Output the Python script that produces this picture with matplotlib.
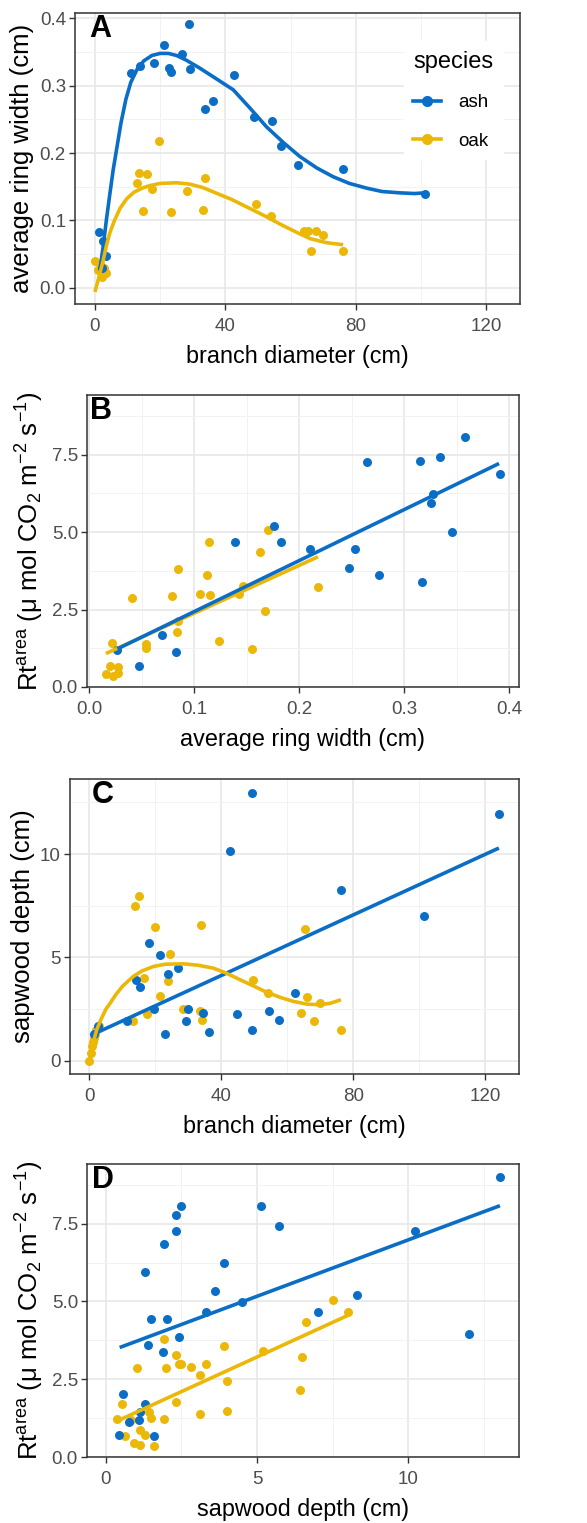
import matplotlib
matplotlib.use("Agg")
import matplotlib.pyplot as plt
from matplotlib.lines import Line2D
from matplotlib.ticker import MultipleLocator

plt.rcParams['font.family'] = ['Liberation Sans', 'DejaVu Sans']
plt.rcParams['mathtext.default'] = 'regular'

ASH = '#0a6dc6'
OAK = '#ebb807'

# ---- panel A: ring width vs branch diameter ----
a_ash_x = [11.0, 13.8, 18.1, 21.1, 22.7, 23.4, 26.6, 28.8, 29.3, 33.9, 36.1, 42.5,
           48.8, 54.3, 57.1, 62.2, 76.1, 101.1, 1.4, 2.5, 3.4, 2.2]
a_ash_y = [0.319, 0.330, 0.334, 0.360, 0.327, 0.321, 0.347, 0.392, 0.325, 0.266,
           0.278, 0.316, 0.254, 0.248, 0.211, 0.183, 0.176, 0.140, 0.083, 0.069,
           0.047, 0.030]
a_oak_x = [13.0, 13.6, 16.1, 17.5, 19.7, 28.2, 33.7, 14.6, 23.4, 33.2, 49.4, 53.9,
           64.1, 65.3, 67.9, 69.8, 66.1, 76.1, 0.0, 1.0, 2.1, 3.4, 2.8, 1.5]
a_oak_y = [0.155, 0.171, 0.169, 0.147, 0.218, 0.144, 0.163, 0.114, 0.113, 0.116,
           0.124, 0.107, 0.085, 0.085, 0.085, 0.079, 0.054, 0.055, 0.040, 0.027,
           0.016, 0.022, 0.030, 0.035]
a_ash_fit_x = [1.5, 2.5, 3.5, 4.6, 5.6, 6.8, 8.0, 9.5, 11.0, 13.0, 15.0, 17.5, 20.0,
               22.5, 25.0, 28.0, 32.2, 37.0, 42.4, 47.5, 52.6, 57.7, 62.8, 68.0,
               73.0, 78.0, 83.3, 88.0, 93.5, 98.0, 101.1]
a_ash_fit_y = [0.026, 0.060, 0.100, 0.140, 0.175, 0.210, 0.245, 0.280, 0.305, 0.325,
               0.337, 0.345, 0.348, 0.348, 0.345, 0.338, 0.326, 0.311, 0.294, 0.267,
               0.239, 0.216, 0.195, 0.178, 0.165, 0.155, 0.148, 0.143, 0.141, 0.140,
               0.141]
a_oak_fit_x = [0.0, 0.8, 1.5, 2.5, 3.5, 4.6, 6.0, 7.7, 9.7, 12.0, 14.5, 17.0, 20.0,
               25.0, 29.0, 33.0, 37.0, 42.0, 47.0, 52.0, 57.0, 62.0, 66.0, 71.0, 76.1]
a_oak_fit_y = [-0.006, 0.008, 0.021, 0.040, 0.062, 0.082, 0.100, 0.118, 0.132, 0.142,
               0.148, 0.152, 0.155, 0.156, 0.154, 0.149, 0.141, 0.131, 0.119, 0.107,
               0.094, 0.082, 0.073, 0.067, 0.064]

# ---- panel B: Rt area vs ring width ----
b_ash_x = [0.1765, 0.139, 0.1825, 0.210, 0.2537, 0.2476, 0.276, 0.265, 0.315, 0.334,
           0.358, 0.391, 0.328, 0.326, 0.346, 0.317, 0.069, 0.0826, 0.0476, 0.027]
b_ash_y = [5.20, 4.67, 4.67, 4.44, 4.44, 3.85, 3.61, 7.26, 7.29, 7.42, 8.07, 6.86,
           6.24, 5.95, 4.99, 3.38, 1.68, 1.14, 0.69, 1.20]
b_oak_x = [0.114, 0.1705, 0.1625, 0.0848, 0.1127, 0.041, 0.0787, 0.1057, 0.115, 0.143,
           0.147, 0.218, 0.085, 0.168, 0.0836, 0.124, 0.155, 0.0543, 0.0543, 0.0216,
           0.020, 0.028, 0.016, 0.0226, 0.028]
b_oak_y = [4.67, 5.05, 4.36, 3.80, 3.60, 2.87, 2.92, 2.99, 2.97, 2.99, 3.27, 3.22,
           2.14, 2.45, 1.77, 1.47, 1.22, 1.39, 1.26, 1.42, 0.69, 0.66, 0.42, 0.34, 0.45]
b_ash_fit_x = [0.027, 0.3905]
b_ash_fit_y = [1.23, 7.21]
b_oak_fit_x = [0.016, 0.218]
b_oak_fit_y = [1.08, 4.20]

# ---- panel C: sapwood depth vs branch diameter ----
c_ash_x = [49.4, 42.7, 124.2, 76.2, 101.5, 18.2, 21.4, 23.8, 26.8, 14.1, 15.2, 19.6,
           29.8, 34.5, 44.9, 54.4, 62.5, 57.5, 29.2, 11.3, 49.3, 36.3, 23.0, 2.5, 1.5]
c_ash_y = [12.95, 10.17, 11.95, 8.27, 6.98, 5.69, 5.13, 4.21, 4.48, 3.92, 3.55, 2.50,
           2.50, 2.31, 2.27, 2.39, 3.27, 1.98, 1.90, 1.90, 1.50, 1.40, 1.29, 1.70, 1.30]
c_oak_x = [14.9, 13.8, 19.8, 33.9, 65.3, 24.4, 16.4, 23.8, 49.7, 54.2, 66.1, 21.4,
           70.0, 28.3, 33.5, 64.3, 34.2, 17.6, 13.2, 68.2, 76.3,
           0.0, 0.5, 0.8, 1.0, 1.3, 1.6, 2.0, 2.5, 3.0]
c_oak_y = [7.95, 7.47, 6.48, 6.58, 6.39, 5.18, 4.00, 3.87, 3.89, 3.27, 3.08, 3.11,
           2.79, 2.50, 2.39, 2.31, 1.98, 2.27, 1.90, 1.90, 1.50,
           0.0, 0.4, 0.7, 0.9, 1.1, 1.3, 1.5, 1.6, 1.7]
c_ash_fit_x = [0.3, 124.2]
c_ash_fit_y = [1.22, 10.29]
c_oak_fit_x = [0.0, 0.5, 1.1, 2.2, 3.5, 5.0, 6.3, 8.0, 10.0, 13.3, 16.0, 19.4, 23.0,
               28.5, 33.0, 37.6, 41.5, 45.7, 50.0, 53.8, 58.0, 61.9, 66.0, 70.0, 73.0,
               76.3]
c_oak_fit_y = [0.05, 0.45, 0.85, 1.50, 2.00, 2.50, 2.79, 3.20, 3.60, 4.08, 4.35, 4.56,
               4.67, 4.69, 4.62, 4.48, 4.24, 3.92, 3.60, 3.31, 3.06, 2.87, 2.74, 2.71,
               2.78, 2.95]

# ---- panel D: Rt area vs sapwood depth ----
d_ash_x = [13.03, 2.50, 5.12, 2.32, 2.32, 5.72, 10.21, 1.91, 1.30, 3.90, 3.62, 4.51,
           3.32, 7.02, 8.31, 1.51, 2.02, 12.02, 2.41, 1.41, 1.90, 0.57, 1.30, 1.12,
           0.77, 1.10, 0.43, 1.60]
d_ash_y = [8.99, 8.08, 8.08, 7.77, 7.27, 7.43, 7.28, 6.84, 5.96, 6.24, 5.34, 4.97,
           4.67, 4.67, 5.20, 4.43, 4.43, 3.95, 3.87, 3.60, 3.36, 2.02, 1.70, 1.45,
           1.13, 1.18, 0.70, 0.68]
d_oak_x = [7.50, 8.02, 6.61, 1.91, 3.90, 5.20, 6.50, 2.31, 2.50, 2.81, 3.31, 2.42,
           2.00, 1.03, 3.11, 4.00, 6.41, 2.32, 0.53, 1.44, 3.11, 4.00, 0.37, 1.51,
           1.91, 0.85, 1.12, 1.31, 0.65, 0.95, 1.12, 1.60]
d_oak_y = [5.04, 4.67, 4.35, 3.79, 3.58, 3.42, 3.22, 3.28, 2.99, 2.90, 2.99, 2.99,
           2.87, 2.87, 2.63, 2.45, 2.17, 1.77, 1.72, 1.45, 1.38, 1.47, 1.21, 1.24,
           1.21, 1.18, 0.86, 0.70, 0.67, 0.45, 0.40, 0.35]
d_ash_fit_x = [0.46, 13.03]
d_ash_fit_y = [3.52, 8.08]
d_oak_fit_x = [0.43, 8.02]
d_oak_fit_y = [1.18, 4.56]

rt_label = 'Rt$^{area}$ (μ mol CO$_2$ m$^{-2}$ s$^{-1}$)'

W, H = 587, 1523
fig = plt.figure(figsize=(W / 100, H / 100), dpi=100)


def rect(l, r, t, b):
    return [l / W, 1 - b / H, (r - l) / W, (b - t) / H]


def style(ax, xmaj, ymaj):
    ax.xaxis.set_major_locator(MultipleLocator(xmaj))
    ax.xaxis.set_minor_locator(MultipleLocator(xmaj / 2))
    ax.yaxis.set_major_locator(MultipleLocator(ymaj))
    ax.yaxis.set_minor_locator(MultipleLocator(ymaj / 2))
    ax.grid(which='major', color='#e8e8e8', lw=1.2, zorder=0)
    ax.grid(which='minor', color='#f2f2f2', lw=0.7, zorder=0)
    ax.set_axisbelow(True)
    for s in ax.spines.values():
        s.set_color('#333333')
        s.set_linewidth(1.1)
    ax.tick_params(which='major', length=4, width=1, color='#333333',
                   labelsize=13.5, labelcolor='#4d4d4d')
    ax.tick_params(axis='x', which='major', pad=6)
    ax.tick_params(axis='y', which='major', pad=2.5)
    ax.tick_params(which='minor', length=0)


def panel(ax, ash_x, ash_y, oak_x, oak_y, ash_fx, ash_fy, oak_fx, oak_fy, letter,
          lx, oak_first=False):
    ax.scatter(oak_x, oak_y, s=42, color=OAK, zorder=3, linewidths=0)
    ax.scatter(ash_x, ash_y, s=42, color=ASH, zorder=3, linewidths=0)
    order = [(oak_fx, oak_fy, OAK), (ash_fx, ash_fy, ASH)]
    if not oak_first:
        order = order[::-1]
    for fx, fy, col in order:
        ax.plot(fx, fy, color=col, lw=2.6, zorder=4, solid_capstyle='butt',
                solid_joinstyle='round')
    ax.text(lx, 0.998, letter, transform=ax.transAxes, fontsize=22,
            fontweight='bold', va='top', ha='left', zorder=6)


XT = 16.8
YT = 18.5
XPAD = 7

axA = fig.add_axes(rect(75, 520, 13, 304))
panel(axA, a_ash_x, a_ash_y, a_oak_x, a_oak_y, a_ash_fit_x, a_ash_fit_y,
      a_oak_fit_x, a_oak_fit_y, 'A', 0.032)
axA.set_xlim(-6.1, 130.3)
axA.set_ylim(-0.024, 0.408)
style(axA, 40, 0.1)
axA.yaxis.set_major_formatter(lambda v, p: f'{v:.1f}')
axA.set_xlabel('branch diameter (cm)', fontsize=XT, labelpad=XPAD)
axA.set_ylabel('average ring width (cm)', fontsize=YT)
handles = [Line2D([], [], color=ASH, lw=2.6, marker='o', ms=7),
           Line2D([], [], color=OAK, lw=2.6, marker='o', ms=7)]
leg = axA.legend(handles, ['ash', 'oak'], title='species', loc='upper left',
                 bbox_to_anchor=(0.718, 0.935), frameon=True, fontsize=13.5,
                 title_fontsize=17, handlelength=1.5, labelspacing=1.15,
                 borderpad=0.5, handletextpad=0.9, fancybox=False)
leg.get_frame().set_edgecolor('white')
leg.get_frame().set_alpha(1)
leg._legend_box.align = 'left'

axB = fig.add_axes(rect(87, 519, 395, 687))
panel(axB, b_ash_x, b_ash_y, b_oak_x, b_oak_y, b_ash_fit_x, b_ash_fit_y,
      b_oak_fit_x, b_oak_fit_y, 'B', 0.008, oak_first=True)
axB.set_xlim(-0.002, 0.4095)
axB.set_ylim(0, 9.42)
style(axB, 0.1, 2.5)
axB.xaxis.set_major_formatter(lambda v, p: f'{v:.1f}')
axB.yaxis.set_major_formatter(lambda v, p: f'{v:.1f}')
axB.set_xlabel('average ring width (cm)', fontsize=XT, labelpad=XPAD)
axB.set_ylabel(rt_label, fontsize=YT)

axC = fig.add_axes(rect(70, 519, 779, 1074))
panel(axC, c_ash_x, c_ash_y, c_oak_x, c_oak_y, c_ash_fit_x, c_ash_fit_y,
      c_oak_fit_x, c_oak_fit_y, 'C', 0.048)
axC.set_xlim(-5.9, 130.3)
axC.set_ylim(-0.64, 13.63)
style(axC, 40, 5)
axC.set_xlabel('branch diameter (cm)', fontsize=XT, labelpad=XPAD)
axC.set_ylabel('sapwood depth (cm)', fontsize=YT)

axD = fig.add_axes(rect(87, 519, 1164, 1457))
panel(axD, d_ash_x, d_ash_y, d_oak_x, d_oak_y, d_ash_fit_x, d_ash_fit_y,
      d_oak_fit_x, d_oak_fit_y, 'D', 0.012)
axD.set_xlim(-0.62, 13.66)
axD.set_ylim(0, 9.42)
style(axD, 5, 2.5)
axD.yaxis.set_major_formatter(lambda v, p: f'{v:.1f}')
axD.set_xlabel('sapwood depth (cm)', fontsize=XT, labelpad=XPAD)
axD.set_ylabel(rt_label, fontsize=YT)

fig.savefig('out.png', dpi=100)
